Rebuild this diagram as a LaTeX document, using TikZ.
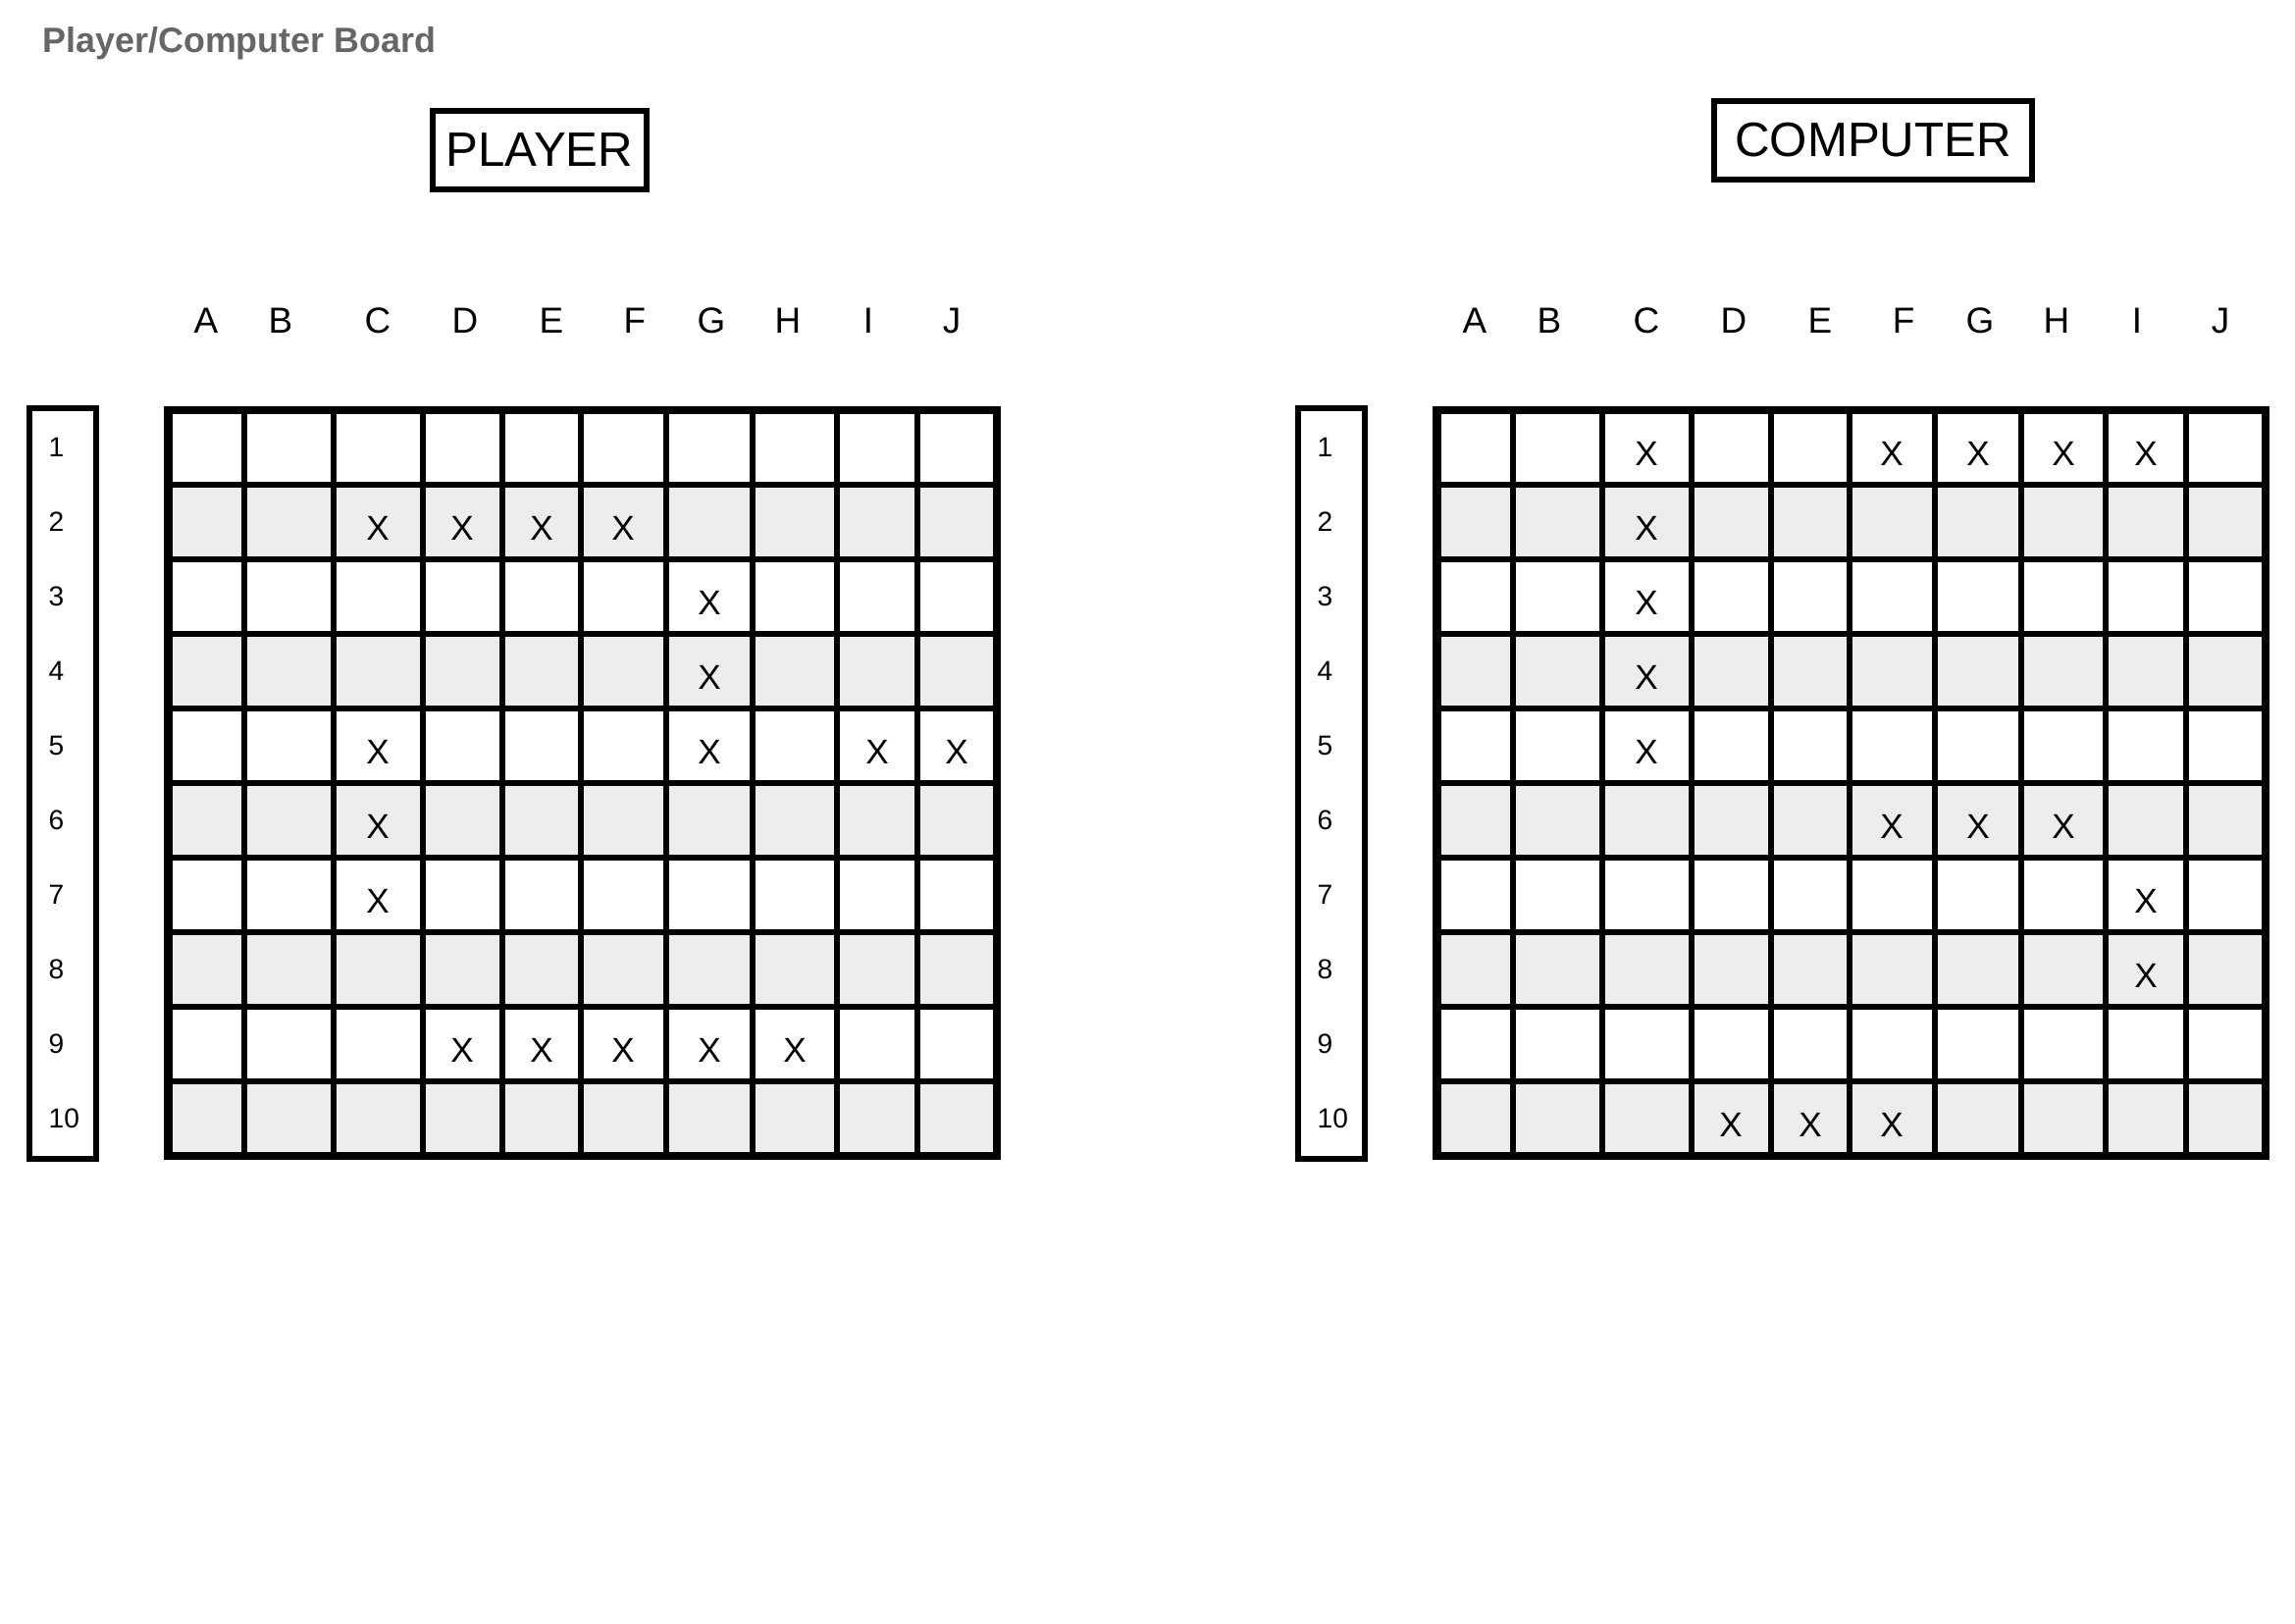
\documentclass[tikz,border=0pt]{standalone}
\usepackage{fontspec}
\setmainfont{Liberation Sans}
\usetikzlibrary{positioning}
\definecolor{titlegray}{HTML}{666666}
\definecolor{rowgray}{HTML}{EDEDED}

\begin{document}
\begin{tikzpicture}[x=0.1mm, y=-0.1mm,
  gridline/.style = {line width=1.7pt},
  gridframe/.style = {line width=2.4pt},
  namebox/.style = {draw, line width=1.5pt,
    font=\fontsize{14}{16}\selectfont, minimum height=8mm},
  collabel/.style = {font=\fontsize{10.5}{12}\selectfont},
  rowlabel/.style = {anchor=west, inner sep=0pt,
    font=\fontsize{8}{10}\selectfont},
  shot/.style = {font=\fontsize{10}{12}\selectfont, yshift=-0.6mm}
  ]
  \useasboundingbox (0,0) rectangle (2339,1654);

  \node[anchor=base west, inner sep=0pt, text=titlegray,
    font=\bfseries\fontsize{10.2}{12}\selectfont] (title) at (43,53)
    {Player/Computer Board};
  \node[namebox, minimum width=21.8mm] (player) at (550,153) {PLAYER};
  \node[namebox, minimum width=32.4mm] (computer) at (1909,143) {COMPUTER};

  % the two boards
  \foreach \side/\dx in {p/0, c/1293} {
    \begin{scope}[shift={(\dx,0)}]
      \foreach \r in {2,4,...,10}
        \fill[rowgray] (171.5,{418+76*(\r-1)}) rectangle (1016,{418+76*\r});
      \foreach \x in {249,340,431,512,592,679,767,853,935}
        \draw[gridline] (\x,418) -- (\x,1178);
      \foreach \r in {1,...,9}
        \draw[gridline] (171.5,{418+76*\r}) -- (1016,{418+76*\r});
      \draw[gridframe] (171.5,418) rectangle (1016,1178);
      % numbers strip
      \draw[gridline] (30,416) rectangle (98,1181);
      \foreach \r in {1,...,10}
        \node[rowlabel] (\side row\r) at (49,{380+76*\r}) {\r};
      % letters and cell centres
      \foreach \c/\x/\cx in {A/210/210, B/286/294, C/385/385, D/474/471,
          E/562/552, F/647/635, G/725/723, H/803/810, I/885/894, J/970/975} {
        \node[collabel] (\side col\c) at (\x,327) {\c};
        \coordinate (\side cell\c) at (\cx,418);
      }
    \end{scope}
  }

  % player ships
  \foreach \c/\r in {C/2, D/2, E/2, F/2, G/3, G/4, C/5, G/5, I/5, J/5,
      C/6, C/7, D/9, E/9, F/9, G/9, H/9}
    \node[shot] (pshot\c\r) at (pcell\c |- prow\r) {X};

  % computer ships
  \foreach \c/\r in {C/1, F/1, G/1, H/1, I/1, C/2, C/3, C/4, C/5,
      F/6, G/6, H/6, I/7, I/8, D/10, E/10, F/10}
    \node[shot] (cshot\c\r) at (ccell\c |- crow\r) {X};
\end{tikzpicture}
\end{document}
